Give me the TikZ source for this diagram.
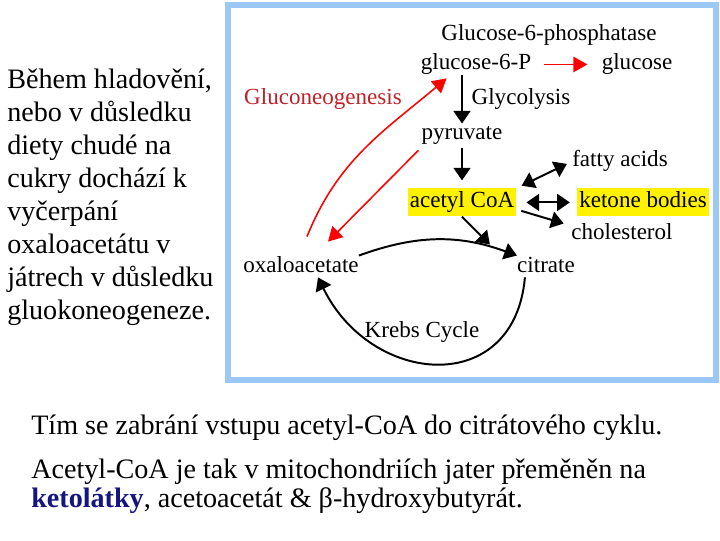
\documentclass[tikz,border=0pt]{standalone}
\usepackage{fontspec}
\setmainfont{Liberation Serif}
\usetikzlibrary{arrows.meta,positioning,calc}

\definecolor{framebl}{RGB}{155,200,245}
\definecolor{gngred}{RGB}{192,32,40}
\definecolor{ketoblue}{RGB}{20,20,130}

\begin{document}
\begin{tikzpicture}[
    x=0.025cm, y=0.025cm,
    met/.style={inner sep=0pt, anchor=base, font=\fontsize{16.4}{19}\selectfont, text height=11.5pt, text depth=3.6pt},
    hl/.style={met, fill=yellow, inner xsep=1.5pt, inner ysep=2.4pt},
    slide/.style={inner sep=0pt, align=left, font=\fontsize{20}{23.4}\selectfont},
    arrow/.style={-{Triangle[length=9pt, width=12pt]}, line width=1.4pt},
    double_arrow/.style={{Triangle[length=9pt, width=12pt]}-{Triangle[length=9pt, width=12pt]}, line width=1.4pt},
    red_arrow/.style={-{Triangle[length=10pt, width=11pt]}, line width=1.1pt, red}
]
    \useasboundingbox (0,0) rectangle (720,540);

    % Frame
    \draw[framebl, line width=4.3pt] (228,535) rectangle (716,160);

    % Side texts
    \node[slide, anchor=north west] (starve) at (7,471) {Během hladovění,\\ nebo v důsledku\\ diety chudé na\\ cukry dochází k\\ vyčerpání\\ oxaloacetátu v\\ játrech v důsledku\\ gluokoneogeneze.};
    \node[slide, anchor=base west] (block) at (31,106) {Tím se zabrání vstupu acetyl-CoA do citrátového cyklu.};
    \node[slide, anchor=north west, font=\fontsize{20}{20.6}\selectfont] (ketone_note) at (31,81.5) {Acetyl-CoA je tak v mitochondriích jater přeměněn na\\ \textbf{\textcolor{ketoblue}{ketolátky}}, acetoacetát \& β-hydroxybutyrát.};

    % Metabolites
    \node[met] (g6pase) at (549,499) {Glucose-6-phosphatase};
    \node[met] (g6p) at (476,470) {glucose-6-P};
    \node[met] (glc) at (637,470) {glucose};
    \node[met, text=gngred] (gng) at (323,435) {Gluconeogenesis};
    \node[met] (glyc) at (521,435) {Glycolysis};
    \node[met] (pyr) at (462,400) {pyruvate};
    \node[met] (fa) at (620,373) {fatty acids};
    \node[hl] (acoa) at (462,332) {acetyl CoA};
    \node[hl] (kb) at (643,332) {ketone bodies};
    \node[met] (chol) at (622,301) {cholesterol};
    \node[met] (oxa) at (301,268) {oxaloacetate};
    \node[met] (cit) at (546,268) {citrate};
    \node[met] (krebs) at (422,203) {Krebs Cycle};

    % Glycolysis
    \draw[red_arrow, shorten <=9pt, shorten >=10pt] (g6p) -- (glc);
    \draw[arrow] (g6p.south -| pyr.north) -- (pyr.north);
    \draw[arrow, shorten <=2pt, shorten >=5.5pt] (pyr) -- (acoa);

    % Acetyl CoA fates
    \draw[double_arrow, shorten <=4pt, shorten >=4pt] (acoa.north east) -- (fa.west);
    \draw[double_arrow, shorten <=7pt, shorten >=5pt] (acoa) -- (kb);
    \draw[arrow, shorten <=3.5pt, shorten >=5.5pt] ([yshift=-5pt]acoa.east) -- ([yshift=5.5pt]chol.west);
    \draw[arrow] (acoa.south) -- ([shift={(-27,11)}]cit.north west);

    % Krebs cycle
    \draw[arrow] (oxa.north east) to[bend left=20] (cit.north west);
    \draw[arrow] ([shift={(8,0)}]cit.south west) to[out=-95, in=-64, looseness=1.5] ([shift={(17,0)}]oxa.south);

    % Gluconeogenesis
    \draw[red_arrow] ([shift={(6,19)}]oxa.north) to[out=68, in=-140] ([shift={(26,-3)}]g6p.south west);
    \draw[red_arrow] ([shift={(-3,-5)}]pyr.south west) -- ([shift={(27,14)}]oxa.north);
\end{tikzpicture}
\end{document}
